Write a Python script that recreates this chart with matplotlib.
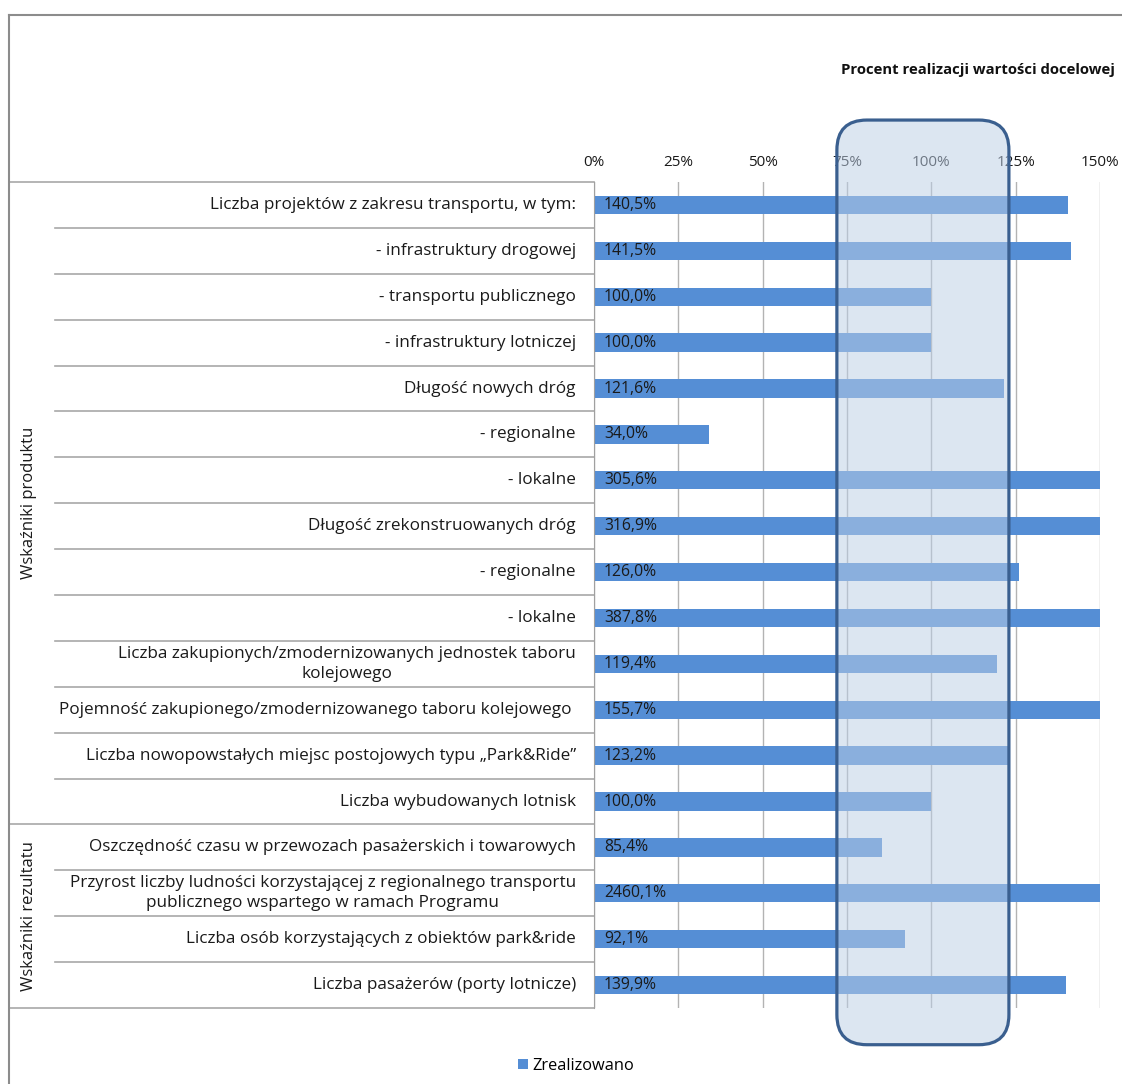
import matplotlib.pyplot as plt
from matplotlib.patches import FancyBboxPatch
from matplotlib.lines import Line2D
from matplotlib.transforms import IdentityTransform

plt.rcParams['font.family'] = ['Open Sans', 'DejaVu Sans']

labels = [
	"Liczba projektów z zakresu transportu, w tym:",
	"- infrastruktury drogowej",
	"- transportu publicznego",
	"- infrastruktury lotniczej",
	"Długość nowych dróg",
	"- regionalne",
	"- lokalne",
	"Długość zrekonstruowanych dróg",
	"- regionalne",
	"- lokalne",
	"Liczba zakupionych/zmodernizowanych jednostek taboru\nkolejowego",
	"Pojemność zakupionego/zmodernizowanego taboru kolejowego ",
	"Liczba nowopowstałych miejsc postojowych typu \u201ePark&Ride\u201d",
	"Liczba wybudowanych lotnisk",
	"Oszczędność czasu w przewozach pasażerskich i towarowych",
	"Przyrost liczby ludności korzystającej z regionalnego transportu\npublicznego wspartego w ramach Programu",
	"Liczba osób korzystających z obiektów park&ride",
	"Liczba pasażerów (porty lotnicze)",
]
values = [140.5, 141.5, 100.0, 100.0, 121.6, 34.0, 305.6, 316.9, 126.0, 387.8,
	119.4, 155.7, 123.2, 100.0, 85.4, 2460.1, 92.1, 139.9]
groups = ["Wskaźniki produktu", "Wskaźniki rezultatu"]
group_sizes = [14, 4]
xticks = [0, 25, 50, 75, 100, 125, 150]
band = (72, 123)   # highlighted target zone (rounded box)

W, H = 1122, 1084
fig = plt.figure(figsize=(W / 100, H / 100), dpi=100)
fig.patch.set_facecolor('white')

# axes in pixel terms
x0, x1, ytop, ybot = 594, 1100, 182, 1008
ax = fig.add_axes([x0 / W, (H - ybot) / H, (x1 - x0) / W, (ybot - ytop) / H])

n = len(values)
ypos = list(range(n))
bars = ax.barh(ypos, values, height=0.4, color='#558ED5', zorder=2)
ax.set_xlim(0, 150)
ax.set_ylim(n - 0.5, -0.5)

for y, v in zip(ypos, values):
	ax.text(3, y, f"{v:.1f}".replace('.', ',') + '%', va='center', ha='left',
		fontsize=11.3, color='#1a1a1a', zorder=3)

ax.xaxis.tick_top()
ax.set_xticks(xticks)
ax.set_xticklabels([f"{t}%" for t in xticks], fontsize=11, color='#1a1a1a')
ax.tick_params(axis='x', length=0, pad=9)
ax.set_yticks([])
ax.grid(axis='x', color='#b3b3b3', linewidth=1, zorder=0)
for s in ['top', 'right', 'bottom']:
	ax.spines[s].set_visible(False)
ax.spines['left'].set_color('#a0a0a0')

# category labels + table lines (left side)
ytr = ax.get_yaxis_transform()
def axx(px):
	return (px - x0) / (x1 - x0)

for y, lab in zip(ypos, labels):
	ax.text(axx(576), y, lab, transform=ytr, ha='right', va='center',
		multialignment='center', fontsize=12.3, color='#1a1a1a', linespacing=1.35)

bounds = [-0.5]
acc = -0.5
for g in group_sizes:
	acc += g
	bounds.append(acc)
for b in range(n + 1):
	yb = b - 0.5
	xs = axx(9) if yb in bounds else axx(55)
	ax.plot([xs, 0], [yb, yb], transform=ytr, color='#a8a8a8', lw=1.2,
		clip_on=False, zorder=1)

start = -0.5
for g, size in zip(groups, group_sizes):
	ax.text(axx(29), start + size / 2, g, transform=ytr, rotation=90,
		ha='center', va='center', fontsize=12, color='#1a1a1a')
	start += size

# rounded highlight box
fig.canvas.draw()
(bx0, by0) = ax.transData.transform((band[0], n - 0.5 + 0.8))
(bx1, by1) = ax.transData.transform((band[1], -0.5 - 1.35))
r = 30
box = FancyBboxPatch((bx0 + r, by0 + r), (bx1 - bx0) - 2 * r, (by1 - by0) - 2 * r,
	boxstyle=f"round,pad={r},rounding_size={r}", transform=IdentityTransform(),
	facecolor='#BCCFE6', alpha=0.52, edgecolor='none', zorder=5)
edge = FancyBboxPatch((bx0 + r, by0 + r), (bx1 - bx0) - 2 * r, (by1 - by0) - 2 * r,
	boxstyle=f"round,pad={r},rounding_size={r}", transform=IdentityTransform(),
	facecolor='none', edgecolor='#3A5F8F', linewidth=2.3, zorder=6)
fig.patches.extend([box, edge])

# outer chart frame
fig.add_artist(Line2D([9 / W, 9 / W], [0, (H - 15) / H], color='#8c8c8c', lw=1.5))
fig.add_artist(Line2D([9 / W, 1], [(H - 15) / H, (H - 15) / H], color='#8c8c8c', lw=1.5))

fig.text(1115 / W, (H - 70) / H, "Procent realizacji wartości docelowej",
	ha='right', va='center', fontsize=10.7, fontweight='bold', color='#111111')

fig.legend([bars], ["Zrealizowano"], loc='center', bbox_to_anchor=(576 / W, (H - 1066) / H),
	frameon=False, fontsize=11.8, handlelength=0.6, handleheight=0.6, handletextpad=0.3)

fig.savefig('out.png', dpi=100)
